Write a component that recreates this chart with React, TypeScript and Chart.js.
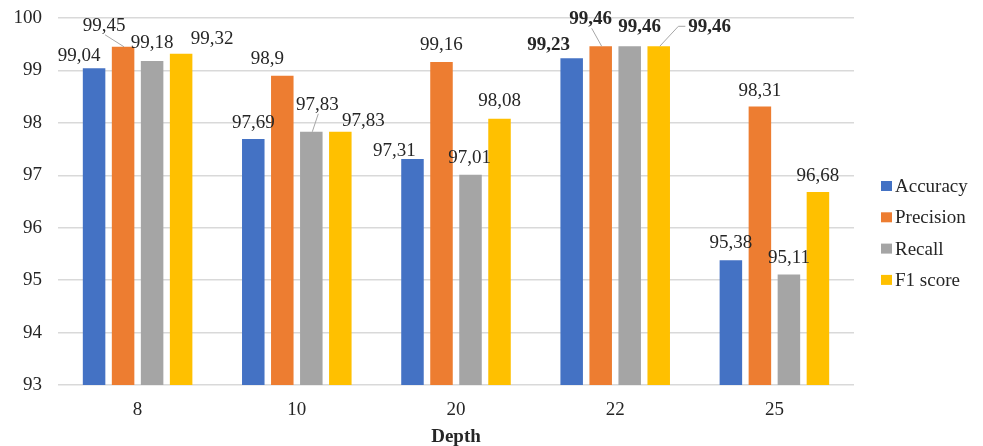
import React, { useEffect, useRef } from "react";
import { Chart, registerables } from "chart.js";

Chart.register(...registerables);

// ---- data ----
const depths = ["8", "10", "20", "22", "25"];
const seriesNames = ["Accuracy", "Precision", "Recall", "F1 score"];
const accuracy = [99.04, 97.69, 97.31, 99.23, 95.38];
const precision = [99.45, 98.9, 99.16, 99.46, 98.31];
const recall = [99.18, 97.83, 97.01, 99.46, 95.11];
const f1Score = [99.32, 97.83, 98.08, 99.46, 96.68];
const yTicks = [93, 94, 95, 96, 97, 98, 99, 100];
const axisTitle = "Depth";
const boldDepths = ["22"];

// ---- styling ----
const colors = ["#4472C4", "#ED7D31", "#A5A5A5", "#FFC000"];
const FONT = "'Liberation Serif', 'Times New Roman', serif";
const TEXT = "#262626";
const GRID = "#d9d9d9";
const FONT_SIZE = 19;

// plot-area edges inside the 983x446 canvas
const PLOT_TOP = 18;
const PLOT_BOTTOM = 385;
const PLOT_LEFT = 58;
const PLOT_RIGHT = 854;

// label placement tweaks: "dataset:index" -> shift from the default spot above the bar
type Nudge = { dx: number; dy: number; leader?: "below" | "left" };
const labelNudges: Record<string, Nudge> = {
  "0:0": { dx: -15, dy: 4 },
  "1:0": { dx: -19, dy: -5, leader: "below" },
  "2:0": { dx: 0, dy: -2 },
  "3:0": { dx: 31, dy: 1 },
  "1:1": { dx: -15, dy: -1 },
  "2:1": { dx: 6, dy: -11, leader: "below" },
  "3:1": { dx: 23, dy: 5 },
  "0:2": { dx: -18, dy: 8 },
  "1:2": { dx: 0, dy: -1 },
  "2:2": { dx: -1, dy: -1 },
  "3:2": { dx: 0, dy: -2 },
  "0:3": { dx: -23, dy: 3 },
  "1:3": { dx: -10, dy: -11, leader: "below" },
  "2:3": { dx: 10, dy: -3 },
  "3:3": { dx: 51, dy: -3, leader: "left" },
  "0:4": { dx: 0, dy: -1 },
};

const fmt = (v: number) => String(v).replace(".", ",");

// pin the plot area so the axes land at fixed pixel edges
const fixedArea = {
  id: "fixedArea",
  afterLayout(chart: any) {
    const x = chart.scales.x;
    const y = chart.scales.y;
    chart.chartArea.top = PLOT_TOP;
    chart.chartArea.bottom = PLOT_BOTTOM;
    chart.chartArea.left = PLOT_LEFT;
    chart.chartArea.right = PLOT_RIGHT;
    y.top = PLOT_TOP;
    y.bottom = PLOT_BOTTOM;
    y.height = PLOT_BOTTOM - PLOT_TOP;
    y.left = 0;
    y.right = PLOT_LEFT;
    y.width = PLOT_LEFT;
    x.left = PLOT_LEFT;
    x.right = PLOT_RIGHT;
    x.width = PLOT_RIGHT - PLOT_LEFT;
    x.top = PLOT_BOTTOM;
    x.bottom = chart.height;
    x.height = chart.height - PLOT_BOTTOM;
    y.configure();
    x.configure();
  },
};

const valueLabels = {
  id: "valueLabels",
  afterDatasetsDraw(chart: any) {
    const { ctx } = chart;
    ctx.save();
    chart.data.datasets.forEach((ds: any, di: number) => {
      const meta = chart.getDatasetMeta(di);
      meta.data.forEach((bar: any, i: number) => {
        const v = ds.data[i] as number;
        const bold = boldDepths.includes(String(chart.data.labels[i]));
        const n = labelNudges[`${di}:${i}`] || { dx: 0, dy: 0 };
        const x = bar.x + n.dx;
        const y = bar.y - 16 + n.dy;
        const text = fmt(v);
        ctx.font = `${bold ? "bold " : ""}${FONT_SIZE}px ${FONT}`;
        ctx.fillStyle = TEXT;
        ctx.textAlign = "center";
        ctx.textBaseline = "middle";
        ctx.fillText(text, x, y);
        if (n.leader) {
          ctx.strokeStyle = "#a6a6a6";
          ctx.lineWidth = 1;
          ctx.beginPath();
          if (n.leader === "below") {
            ctx.moveTo(x + 1, y + 9);
            ctx.lineTo(bar.x + 1, bar.y);
          } else {
            const w = ctx.measureText(text).width;
            const sx = x - w / 2 - 3;
            ctx.moveTo(sx, y - 1);
            ctx.lineTo(sx - 7, y - 1);
            ctx.lineTo(bar.x + 1, bar.y);
          }
          ctx.stroke();
        }
      });
    });
    ctx.restore();
  },
};

const sideLegend = {
  id: "sideLegend",
  afterDraw(chart: any) {
    const { ctx, chartArea } = chart;
    const x0 = chartArea.right + 27;
    const y0 = chartArea.top + 168;
    const step = 31.3;
    ctx.save();
    ctx.font = `${FONT_SIZE}px ${FONT}`;
    ctx.textAlign = "left";
    ctx.textBaseline = "middle";
    chart.data.datasets.forEach((ds: any, i: number) => {
      const cy = y0 + i * step;
      ctx.fillStyle = ds.backgroundColor;
      ctx.fillRect(x0, cy - 5, 11, 10);
      ctx.fillStyle = TEXT;
      ctx.fillText(ds.label, x0 + 14, cy + 1);
    });
    ctx.restore();
  },
};

export default function App() {
  const ref = useRef<HTMLCanvasElement>(null);

  useEffect(() => {
    if (!ref.current) return;
    const values = [accuracy, precision, recall, f1Score];
    const chart = new Chart(ref.current, {
      type: "bar",
      data: {
        labels: depths,
        datasets: seriesNames.map((name, i) => ({
          label: name,
          data: values[i],
          backgroundColor: colors[i],
          categoryPercentage: 0.729,
          barPercentage: 0.776,
        })),
      },
      options: {
        animation: false,
        responsive: true,
        maintainAspectRatio: false,
        layout: { padding: { top: 18, right: 129, bottom: 0, left: 0 } },
        plugins: {
          legend: { display: false },
          tooltip: { enabled: false },
        },
        scales: {
          x: {
            grid: { display: false, drawTicks: false },
            border: { display: false },
            ticks: {
              color: TEXT,
              font: { family: FONT, size: FONT_SIZE },
              padding: 14,
            },
            title: {
              display: true,
              text: axisTitle,
              color: TEXT,
              font: { family: FONT, size: FONT_SIZE, weight: "bold", lineHeight: 0.9 },
              padding: { top: 0, bottom: 0 },
            },
          },
          y: {
            min: yTicks[0],
            max: yTicks[yTicks.length - 1],
            afterBuildTicks: (s: any) => {
              s.ticks = yTicks.map((v) => ({ value: v }));
            },
            grid: { color: GRID, lineWidth: 1.5, drawTicks: false },
            border: { display: false },
            ticks: {
              color: TEXT,
              font: { family: FONT, size: FONT_SIZE },
              padding: 16,
            },
          },
        },
      },
      plugins: [fixedArea, valueLabels, sideLegend],
    });
    return () => chart.destroy();
  }, []);

  return (
    <div style={{ position: "absolute", left: 0, top: 0, width: 983, height: 446, background: "#fff" }}>
      <canvas ref={ref} />
    </div>
  );
}
